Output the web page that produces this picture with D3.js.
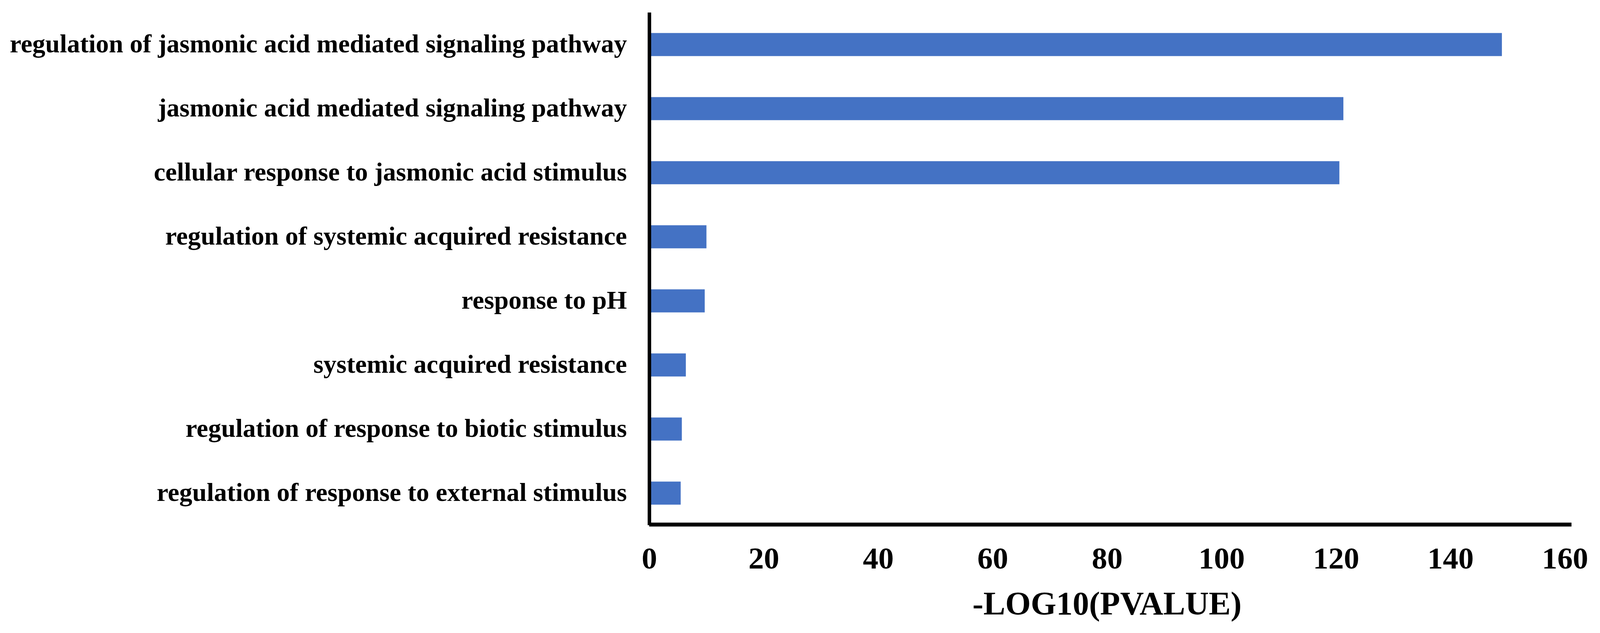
<!DOCTYPE html>
<html>
<head>
<meta charset="utf-8">
<script src="https://cdn.jsdelivr.net/npm/d3@7"></script>
<style>
  body { margin: 0; background: #fff; }
  text { font-family: "Liberation Serif", "Times New Roman", serif; font-weight: bold; fill: #000; }
</style>
</head>
<body>
<div id="chart"></div>
<script>
// GO terms, top to bottom
var terms = [
  "regulation of jasmonic acid mediated signaling pathway",
  "jasmonic acid mediated signaling pathway",
  "cellular response to jasmonic acid stimulus",
  "regulation of systemic acquired resistance",
  "response to pH",
  "systemic acquired resistance",
  "regulation of response to biotic stimulus",
  "regulation of response to external stimulus"
];

// -log10(p value)
var logP = [149.0, 121.3, 120.6, 10.0, 9.7, 6.4, 5.7, 5.5];

var xTicks = [0, 20, 40, 60, 80, 100, 120, 140, 160];
var xTitle = "-LOG10(PVALUE)";

// svg container
var svgWidth = 4105;
var svgHeight = 1620;

var margin = { top: 32, right: 99, bottom: 276, left: 1662 };
var width = svgWidth - margin.left - margin.right;
var height = svgHeight - margin.top - margin.bottom;

var svg = d3.select("#chart")
  .append("svg")
  .attr("width", svgWidth)
  .attr("height", svgHeight);

var chartGroup = svg.append("g")
  .attr("transform", `translate(${margin.left}, ${margin.top})`);

var data = terms.map(function(t, i) {
  return { term: t, value: logP[i] };
});

// scales
var xScale = d3.scaleLinear()
  .domain([0, 160])
  .range([0, width]);

var yScale = d3.scaleBand()
  .domain(terms)
  .range([0, height])
  .paddingInner(0.64)
  .paddingOuter(0.32);

// bars
chartGroup.selectAll(".bar")
  .data(data)
  .enter()
  .append("rect")
  .attr("class", "bar")
  .attr("x", 0)
  .attr("y", d => yScale(d.term))
  .attr("width", d => xScale(d.value))
  .attr("height", yScale.bandwidth())
  .attr("fill", "#4472C4");

// y axis: labels only, plus a thick line
var leftAxis = d3.axisLeft(yScale).tickSize(0).tickPadding(57);
var yAxisGroup = chartGroup.append("g").call(leftAxis);
yAxisGroup.select(".domain").remove();
yAxisGroup.selectAll("text")
  .attr("font-size", "66.5px")
  .attr("dy", "0.3em")
  .style("font-family", "'Liberation Serif', 'Times New Roman', serif")
  .style("font-weight", "bold");

chartGroup.append("line")
  .attr("x1", 0.5).attr("x2", 0.5)
  .attr("y1", 0).attr("y2", height)
  .attr("stroke", "#000")
  .attr("stroke-width", 9);

// x axis
var bottomAxis = d3.axisBottom(xScale)
  .tickValues(xTicks)
  .tickSize(0)
  .tickPadding(55);
var xAxisGroup = chartGroup.append("g")
  .attr("transform", `translate(0, ${height})`)
  .call(bottomAxis);
xAxisGroup.select(".domain").remove();
xAxisGroup.selectAll("text")
  .attr("font-size", "79px")
  .style("font-family", "'Liberation Serif', 'Times New Roman', serif")
  .style("font-weight", "bold");

chartGroup.append("line")
  .attr("x1", 0).attr("x2", width + 17)
  .attr("y1", height - 1.5).attr("y2", height - 1.5)
  .attr("stroke", "#000")
  .attr("stroke-width", 10);

// axis title
chartGroup.append("text")
  .attr("x", width / 2)
  .attr("y", height + 229)
  .attr("text-anchor", "middle")
  .attr("font-size", "84px")
  .text(xTitle);
</script>
</body>
</html>
